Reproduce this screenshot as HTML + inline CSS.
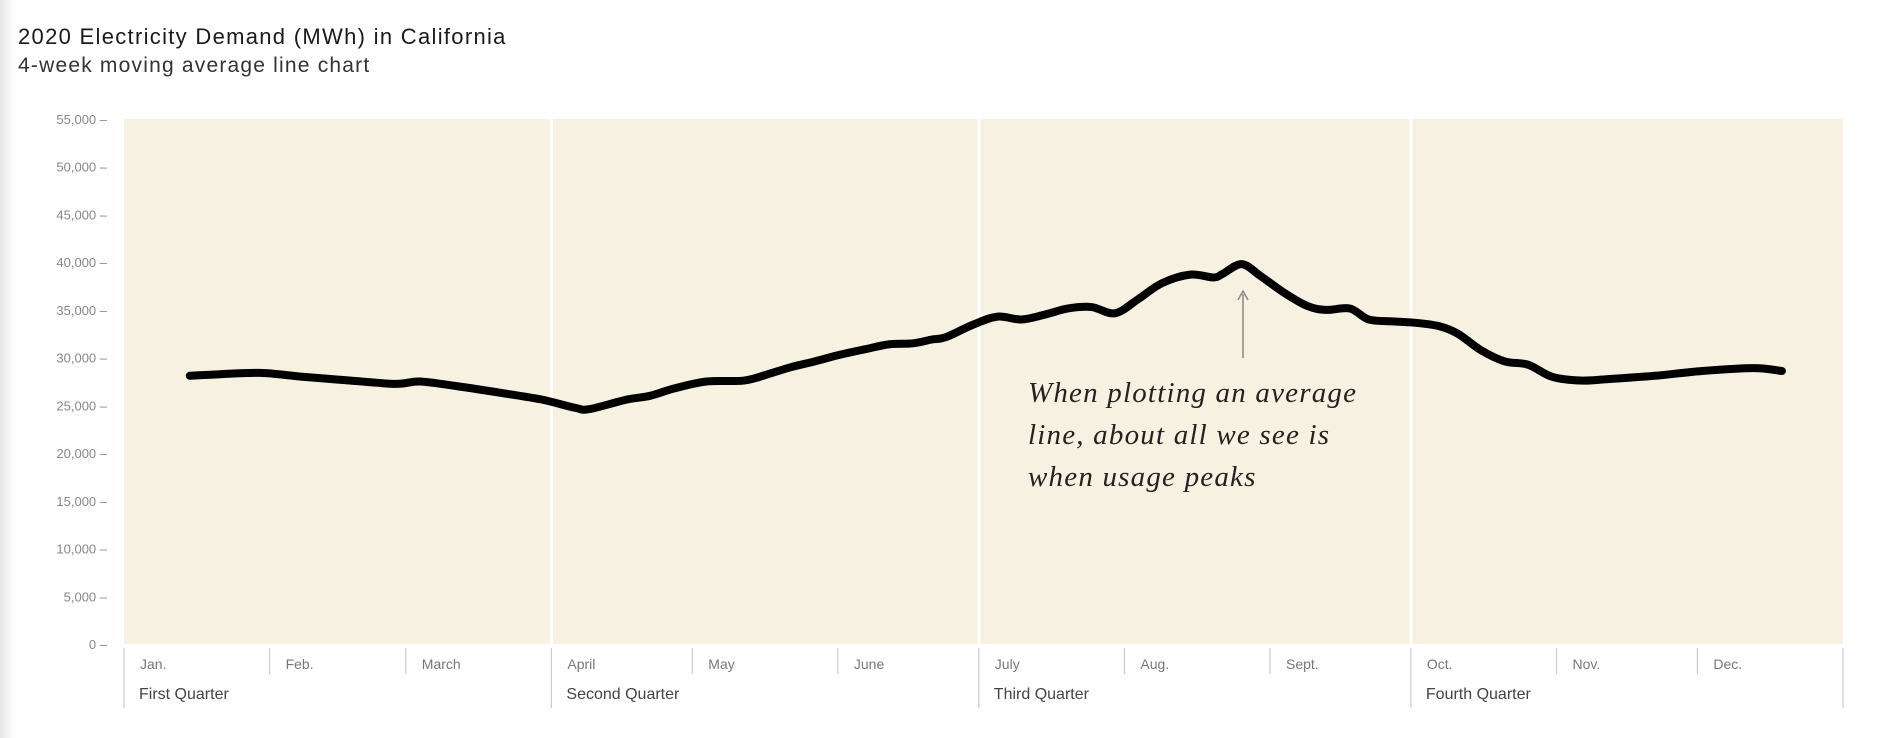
<!DOCTYPE html>
<html><head><meta charset="utf-8"><style>
body{margin:0;background:#fff;width:1882px;height:738px;overflow:hidden;font-family:"Liberation Sans",sans-serif}
.edge{position:absolute;left:0;top:0;width:14px;height:738px;background:linear-gradient(90deg,#e6e6e6,#fff)}
</style></head><body>
<div class="edge"></div>
<svg id="c" width="1882" height="738" style="position:absolute;left:0;top:0">
<text x="18" y="44" font-size="22" letter-spacing="1.3" fill="#1a1a1a">2020 Electricity Demand (MWh) in California</text>
<text x="18" y="72" font-size="21" letter-spacing="1.2" fill="#333">4-week moving average line chart</text>
</svg>
<script>
const days=[14,20,29,38,48,58,63,71,81,89,96,99,107,112,117,124,132,137,142,147,152,158,163,168,172,175,181,186,191,196,201,206,211,216,221,227,232,234,238,242,247,252,256,261,265,270,275,280,284,289,294,299,304,310,316,326,336,347,353];
const demand=[28100,28250,28400,28000,27600,27250,27500,27000,26250,25600,24750,24600,25600,26000,26750,27500,27600,28250,29000,29600,30250,30900,31400,31500,31900,32150,33500,34300,34000,34500,35150,35300,34650,36150,37800,38700,38400,38800,39800,38550,36800,35400,35000,35150,34000,33800,33650,33300,32500,30750,29600,29250,28000,27600,27750,28100,28600,28900,28600];
const yTicks=[0,5000,10000,15000,20000,25000,30000,35000,40000,45000,50000,55000];
const monthStarts=[0,31,60,91,121,152,182,213,244,274,305,335];
const monthLabels=["Jan.","Feb.","March","April","May","June","July","Aug.","Sept.","Oct.","Nov.","Dec."];
const quarterLabels=["First Quarter","Second Quarter","Third Quarter","Fourth Quarter"];
const L=124,R=1843,T=119,B=644,NS="http://www.w3.org/2000/svg";
const x=d=>L+d/366*(R-L), y=v=>B-v/55000*(B-T);
const svg=document.getElementById('c');
function mk(t,a){const e=document.createElementNS(NS,t);for(const k in a)e.setAttribute(k,a[k]);svg.appendChild(e);return e;}
let bg=mk('rect',{x:L,y:T,width:R-L,height:B-T,fill:'#f7f1e1'});


[3,6,9].forEach(i=>{const l=mk('line',{x1:x(monthStarts[i]),x2:x(monthStarts[i]),y1:T,y2:B,stroke:'#fff','stroke-width':3});

});
yTicks.forEach(v=>{const t=mk('text',{x:L-17,y:y(v)+5,'text-anchor':'end','font-size':13,fill:'#888'});t.textContent=v.toLocaleString('en-US')+' –';

});
monthStarts.concat([366]).forEach((d,i)=>{const q=i%3==0;const l=mk('line',{x1:x(d),x2:x(d),y1:648,y2:q?708:674,stroke:'#ccc','stroke-width':1.2});


if(i<12){const t=mk('text',{x:x(d)+16,y:669,'font-size':14,fill:'#777'});t.textContent=monthLabels[i];

}
if(q&&i<12){const t=mk('text',{x:x(d)+15,y:699,'font-size':16,fill:'#444'});t.textContent=quarterLabels[i/3];

}});
const pts=days.map((d,i)=>[x(d),y(demand[i])]);
let dstr='M'+pts[0][0]+','+pts[0][1];
for(let i=0;i<pts.length-1;i++){const p0=pts[Math.max(0,i-1)],p1=pts[i],p2=pts[i+1],p3=pts[Math.min(pts.length-1,i+2)];
dstr+=' C'+(p1[0]+(p2[0]-p0[0])/6)+','+(p1[1]+(p2[1]-p0[1])/6)+' '+(p2[0]-(p3[0]-p1[0])/6)+','+(p2[1]-(p3[1]-p1[1])/6)+' '+p2[0]+','+p2[1];}
let p=mk('path',{d:dstr,fill:'none',stroke:'#000','stroke-width':8,'stroke-linejoin':'round','stroke-linecap':'round'});


let a=mk('line',{x1:1243,x2:1243,y1:294,y2:358,stroke:'#888','stroke-width':1.5});


let ah=mk('path',{d:'M1238,300 L1243,291 L1248,300',fill:'none',stroke:'#888','stroke-width':1.5});


["When plotting an average","line, about all we see is","when usage peaks"].forEach((s,i)=>{const t=mk('text',{x:1028,y:402+i*42,'font-size':29,'letter-spacing':1.2,'font-style':'italic','font-family':'"Liberation Serif",serif',fill:'#222'});t.textContent=s;

});
</script>
</body></html>
